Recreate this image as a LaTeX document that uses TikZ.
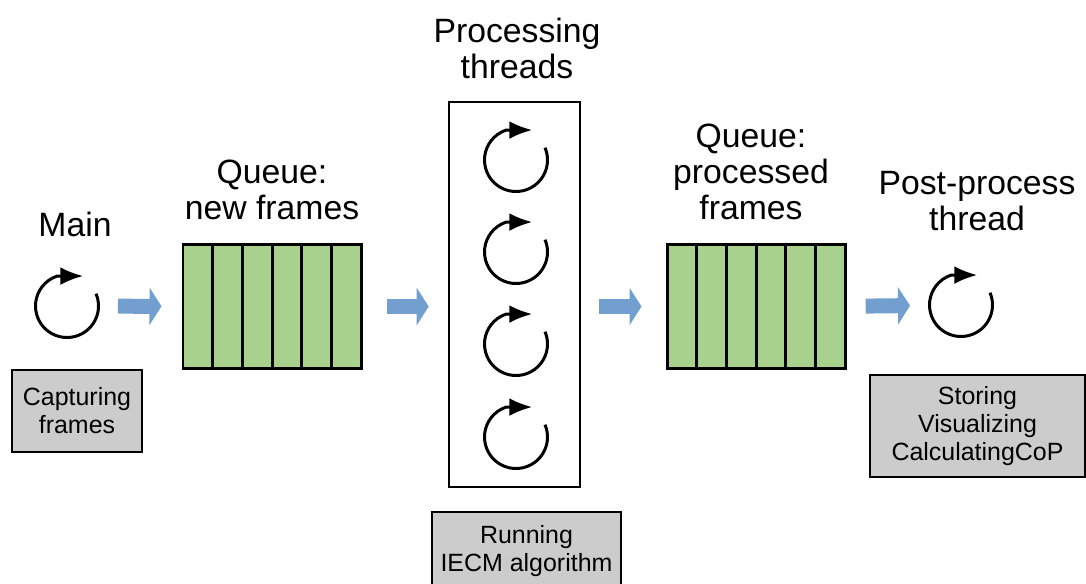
\documentclass[tikz,border=0pt]{standalone}
\usepackage{fontspec}
\setmainfont{Liberation Sans}
\usetikzlibrary{arrows.meta,calc}
\definecolor{qgreen}{HTML}{A9D18E}
\definecolor{flowblue}{HTML}{729FCF}
\definecolor{taskgray}{HTML}{CCCCCC}
\tikzset{
  ttl/.style={align=center,font=\fontsize{19.2}{20.5}\selectfont},
  taskblk/.style={draw,fill=taskgray,line width=1.2pt,align=center,inner sep=0pt,font=\fontsize{14.2}{16}\selectfont},
  cell/.style={draw,fill=qgreen,line width=1.7pt,minimum width=0.594cm,minimum height=2.5cm,inner sep=0pt},
  threadblk/.style={draw,line width=1.5pt,minimum width=2.62cm,minimum height=7.7cm,inner sep=0pt},
  loopspot/.style={circle,minimum size=1.26cm,inner sep=0pt,outer sep=0pt},
  looparr/.style={line width=1.7pt,-{Latex[length=0.46cm,width=0.36cm]}},
  flow/.style={flowblue,line width=0.3cm,-{Triangle[length=0.24cm,width=0.74cm]}}
}
% circular "running" symbol round a loopspot node
\newcommand{\loopicon}[1]{\draw[looparr] (#1.23) arc[start angle=23,end angle=-252,radius=0.63cm] -- ++(0.52cm,0);}

\begin{document}
\begin{tikzpicture}[x=0.02cm,y=0.02cm]
  \useasboundingbox (0,0) rectangle (1086,-584);

  % Main thread
  \node[ttl] (mainlbl) at (75,-224) {Main};
  \node[loopspot] (mainloop) at (67,-306) {};
  \loopicon{mainloop}
  \node[taskblk,minimum width=2.6cm,minimum height=1.64cm] (capt) at (77,-411) {Capturing\\frames};

  % Queue of new frames
  \node[ttl] (qnewlbl) at (272,-190) {Queue:\\new frames};
  \foreach \i in {0,...,5}
    \node[cell] (qnew\i) at ({197.85+\i*29.7},-306.5) {};

  % Processing threads
  \node[ttl] (thrlbl) at (517,-48) {Processing\\threads};
  \node[threadblk] (thrbox) at (514.5,-294.5) {};
  \foreach \y [count=\k] in {160,252,344,437} {
    \node[loopspot] (thr\k) at (516,-\y) {};
    \loopicon{thr\k}
  }
  \node[taskblk,minimum width=3.78cm,minimum height=1.56cm] (iecm) at (526.5,-551) {Running\\IECM algorithm};

  % Queue of processed frames
  \node[ttl] (qproclbl) at (751,-172) {Queue:\\processed\\frames};
  \foreach \i in {0,...,5}
    \node[cell] (qproc\i) at ({681.85+\i*29.7},-306.5) {};

  % Post-process thread
  \node[ttl] (postlbl) at (977,-201) {Post-process\\thread};
  \node[loopspot] (postloop) at (961,-305) {};
  \loopicon{postloop}
  \node[taskblk,minimum width=4.3cm,minimum height=2.04cm] (store) at (977.5,-426) {Storing\\Visualizing\\CalculatingCoP};

  % data flow
  \draw[flow,shorten <=0.39cm,shorten >=0.4cm] (mainloop) -- (qnew0);
  \draw[flow,shorten <=0.48cm,shorten >=0.38cm] (qnew5) -- (qnew5 -| thrbox.west);
  \draw[flow,shorten <=0.36cm,shorten >=0.48cm] (thrbox.east |- qproc0) -- (qproc0);
  \draw[flow,shorten <=0.38cm,shorten >=0.39cm] (qproc5) -- (postloop);
\end{tikzpicture}
\end{document}
